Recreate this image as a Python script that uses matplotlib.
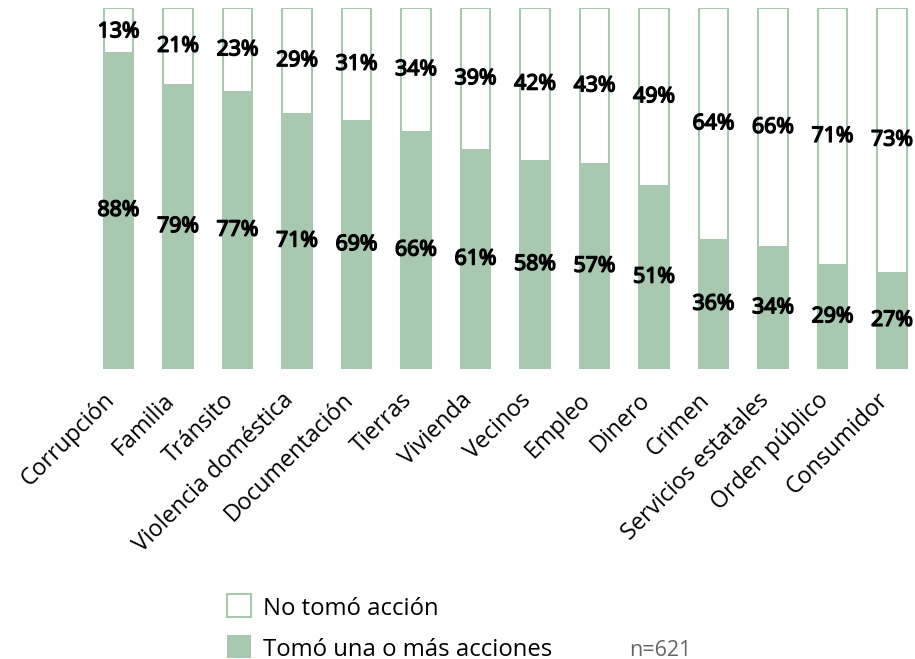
import matplotlib
matplotlib.use('Agg')
import matplotlib.pyplot as plt
from matplotlib.patches import Rectangle
import matplotlib.patheffects as pe
import matplotlib.transforms as mtransforms
import numpy as np

plt.rcParams['font.family'] = ['Open Sans', 'DejaVu Sans']

categories = ['Corrupción', 'Familia', 'Tránsito', 'Violencia doméstica',
              'Documentación', 'Tierras', 'Vivienda', 'Vecinos', 'Empleo',
              'Dinero', 'Crimen', 'Servicios estatales', 'Orden público',
              'Consumidor']
took_action = [88, 79, 77, 71, 69, 66, 61, 58, 57, 51, 36, 34, 29, 27]
no_action = [13, 21, 23, 29, 31, 34, 39, 42, 43, 49, 64, 66, 71, 73]

green = '#a8c8af'
W, H = 915, 659

fig = plt.figure(figsize=(W / 100, H / 100), dpi=100)
ax = fig.add_axes([100.65 / W, 290 / H, 809.2 / W, 360.7 / H])

x = np.arange(len(categories))
ax.bar(x, [100] * len(x), width=0.49, color='white', edgecolor=green,
       linewidth=1.5)
ax.bar(x, took_action, width=0.49 + 0.02, color=green, edgecolor='none')

# fake bold: Open Sans bold is not available as a normal-width face
bold = [pe.withStroke(linewidth=1.1, foreground='black')]
for xi, t, n in zip(x, took_action, no_action):
    ax.text(xi, t / 2, f'{t}%', ha='center', va='center', fontsize=15.3,
            color='black', path_effects=bold)
    ax.text(xi, 100 - n / 2, f'{n}%', ha='center', va='center',
            fontsize=15.3, color='black', path_effects=bold)

ax.set_xlim(-0.3, 13.3)
ax.set_ylim(0, 100)
for s in ax.spines.values():
    s.set_visible(False)
ax.set_yticks([])
ax.set_xticks(x)
ax.set_xticklabels(categories, rotation=45, ha='right', va='center',
                   rotation_mode='anchor', fontsize=16.8)
ax.tick_params(axis='x', length=0, pad=20)
offset = mtransforms.ScaledTranslation(-7 / 100, 0, fig.dpi_scale_trans)
for lbl in ax.get_xticklabels():
    lbl.set_transform(lbl.get_transform() + offset)

# legend drawn by hand
fig.add_artist(Rectangle((227 / W, 1 - 616.5 / H), 24 / W, 22.5 / H,
                         transform=fig.transFigure, facecolor='white',
                         edgecolor=green, linewidth=1.5))
fig.add_artist(Rectangle((226.5 / W, 1 - 658 / H), 24.5 / W, 23.5 / H,
                         transform=fig.transFigure, facecolor=green,
                         edgecolor='none'))
fig.text(263 / W, 1 - 615 / H, 'No tomó acción', ha='left', va='baseline',
         fontsize=17.2)
fig.text(263 / W, 1 - 655.5 / H, 'Tomó una o más acciones', ha='left',
         va='baseline', fontsize=17.2)
fig.text(629 / W, 1 - 655.5 / H, 'n=621', ha='left', va='baseline',
         fontsize=15.5, color='#666666')

fig.savefig('out.png', dpi=100)
